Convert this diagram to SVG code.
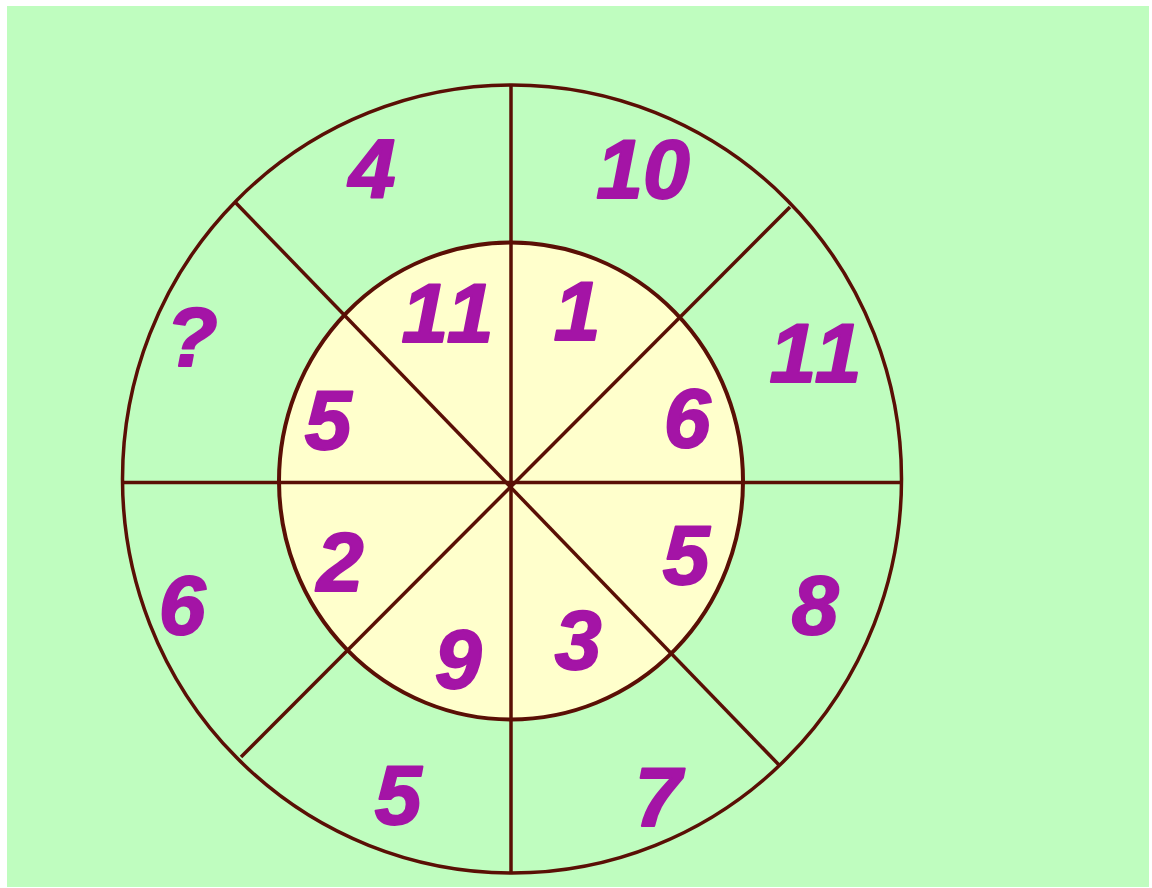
<svg xmlns="http://www.w3.org/2000/svg" width="1152" height="888" viewBox="0 0 1152 888">
<style>
.ln{stroke:#5a0f05;stroke-width:3.5;fill:none}
.n{font-family:"Liberation Sans",Arial,sans-serif;font-weight:bold;font-style:italic;font-size:84px;fill:#a414a6;stroke:#a414a6;stroke-width:2;stroke-linejoin:round;text-anchor:middle}
.w{letter-spacing:5px}
</style>
<rect x="0" y="0" width="1152" height="888" fill="#ffffff"/>
<rect x="7" y="6" width="1142" height="881" fill="#bffdbf"/>
<g id="outer"><ellipse cx="512" cy="479" rx="389.5" ry="394" fill="#bffdbf" class="ln"/></g>
<g id="inner"><ellipse cx="511" cy="481" rx="232" ry="238.5" fill="#ffffcc" stroke="#5a0f05" stroke-width="4"/></g>
<g id="connectors">
<line class="ln" x1="511" y1="85" x2="511" y2="873"/>
<line class="ln" x1="122" y1="482.5" x2="902" y2="482.5"/>
<line class="ln" x1="235" y1="202" x2="780" y2="766"/>
<line class="ln" x1="790" y1="207" x2="241" y2="757"/>
</g>
<g id="outer-labels">
<text class="n" x="372" y="198">4</text>
<text class="n" x="643" y="198">10</text>
<text class="n w" x="818" y="382">11</text>
<text class="n" x="815" y="634">8</text>
<text class="n" x="658" y="826">7</text>
<text class="n" x="398" y="824">5</text>
<text class="n" x="182" y="634">6</text>
<text class="n" x="192" y="366">?</text>
</g>
<g id="inner-labels">
<text class="n w" x="450" y="342">11</text>
<text class="n" x="577" y="340">1</text>
<text class="n" x="687" y="447">6</text>
<text class="n" x="686" y="584">5</text>
<text class="n" x="578" y="669">3</text>
<text class="n" x="458" y="688">9</text>
<text class="n" x="340" y="591">2</text>
<text class="n" x="328" y="449">5</text>
</g>
</svg>
